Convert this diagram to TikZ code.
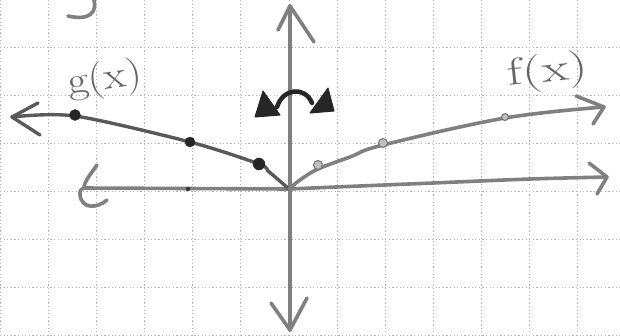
\documentclass[tikz,border=0pt]{standalone}
\begin{document}
\begin{tikzpicture}[x=1pt,y=-1pt,
  gridline/.style={gray!60,line width=0.8pt,dash pattern=on 1.2pt off 2.4pt},
  pencil/.style={draw=black!50,line width=3.6pt,line cap=round,line join=round},
  darkpencil/.style={draw=black!65,line width=3.4pt,line cap=round,line join=round},
  ink/.style={draw=black!85,fill=black!85,line width=1pt,line join=round},
  gdot/.style={fill=black!85,draw=black!85},
  fdot/.style={fill=black!25,draw=black!55,line width=1pt},
  hand/.style={text=black!60,font=\fontsize{38}{38}\selectfont,inner sep=0pt}]
\useasboundingbox (0,0) rectangle (620,335);
\fill[white] (0,0) rectangle (620,335);
% grid
\foreach \k in {0,...,12} \draw[gridline] ({48.15*\k},0) -- ({48.15*\k},335);
\foreach \k in {0,...,6} \draw[gridline] (0,{47+48*\k}) -- (620,{47+48*\k});
% coordinates
\coordinate (O) at (289,189);
\coordinate (ytop) at (290,6);
\coordinate (ybot) at (290,330);
\coordinate (xright) at (607,177);
\coordinate (xleft) at (84,188);
\coordinate (gtip) at (12,117);
\coordinate (ftip) at (604,107);
% top partial mark
\draw[pencil] (94,0) .. controls (97,12) and (90,21) .. (68,16);
% y axis
\draw[pencil] (ybot) -- (ytop);
\draw[pencil] (278,30) -- (ytop) -- (314,42);
\draw[pencil] (271,303) -- (ybot) -- (307,298);
% x axis right
\draw[pencil] plot[smooth] coordinates {(O) (360,186) (433,183) (530,179) (xright)};
\draw[pencil] (589,163) -- (xright) -- (597,194);
% x axis left with curl
\draw[pencil] (O) -- (xleft) .. controls (80,190) .. (80,195) .. controls (82,210) and (98,208) .. (107,200);
\draw[pencil] (97,165) .. controls (90,175) and (84,182) .. (xleft);
\fill[black!80] (188,189) circle (2.2);
% g(x)
\draw[darkpencil] plot[smooth] coordinates {(O) (281,182) (268,171) (259,164) (190,142) (75,116) (gtip)};
\draw[darkpencil] (38,103) -- (gtip) -- (40,135);
\fill[gdot] (75,115) circle (5.5);
\fill[gdot] (190,142) circle (5);
\fill[gdot] (259,164) circle (6);
\node[hand,rotate=8,xscale=1.2] (glabel) at (105,80) {g(x)};
% f(x)
\draw[pencil] plot[smooth,tension=0.6] coordinates {(O) (300,180) (318,169) (350,157) (383,145) (505,118) (ftip)};
\draw[pencil] (576,96) -- (ftip) -- (593,124);
\filldraw[fdot] (318,165) circle (4.5);
\filldraw[fdot] (383,143) circle (4.5);
\filldraw[fdot] (505,117) circle (3.5);
\node[hand,rotate=6,xscale=1.45] (flabel) at (548,72) {f(x)};
% rotation marks
\draw[black!85,line width=4.5pt,line cap=round] (277,107) .. controls (283,88) and (305,86) .. (312,103);
\filldraw[ink] (263,91) -- (255,117) -- (280,115) -- cycle;
\filldraw[ink] (328,88) -- (310,113) -- (334,111) -- cycle;
\end{tikzpicture}
\end{document}
